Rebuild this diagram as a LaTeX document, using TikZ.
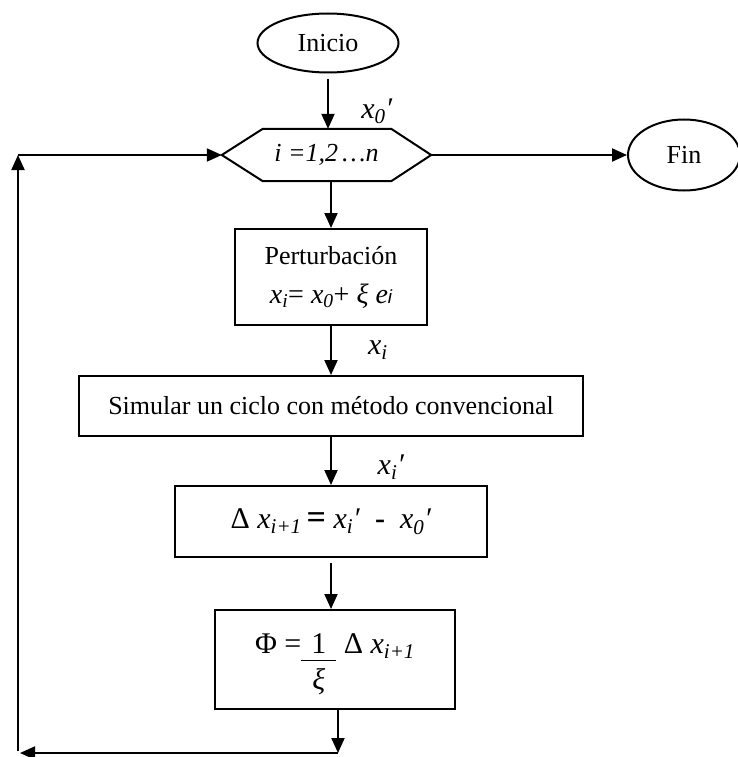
\documentclass[tikz,border=0pt]{standalone}
\usepackage{fontspec}
\setmainfont{Liberation Serif}
\newfontfamily\sansf{Liberation Sans}
\usetikzlibrary{shapes.geometric,arrows.meta,calc}
\newcommand{\vx}[1]{\textit{x}\textsubscript{\textit{#1}}}
\newcommand{\pr}{\textit{′}}
\newcommand{\mth}{\fontsize{30}{36}\selectfont}
\begin{document}
\begin{tikzpicture}[x=1pt,y=-1pt,
  every node/.style={font=\fontsize{26}{39}\selectfont, inner sep=0pt},
  line/.style={line width=2pt},
  arr/.style={line width=2pt,-{Triangle[length=15pt,width=13pt]}},
  term/.style={ellipse, draw, line width=2pt},
  proc/.style={rectangle, draw, line width=2pt, align=center},
  lab/.style={font=\mth}]
\useasboundingbox (0,0) rectangle (738,757);

\node[term, minimum width=141pt, minimum height=59pt] (inicio) at (328,43) {Inicio};
\node[minimum width=209pt, minimum height=52pt] (hex) at (326.5,155) {\textit{i =1,2\,…n}};
\draw[line] (hex.west) -- ($(hex.north west)+(41,0)$) -- ($(hex.north east)+(-40,0)$) -- (hex.east)
  -- ($(hex.south east)+(-40,0)$) -- ($(hex.south west)+(41,0)$) -- cycle;
\node[term, minimum width=112pt, minimum height=71pt] (fin) at (684,155) {Fin};
\node[proc, minimum width=192pt, minimum height=96pt] (pert) at (331,277)
  {Perturbación\\ {\fontsize{28}{30}\selectfont\vx{i}= \vx{0}+ \textit{ξ} \textit{e}{\sansf\itshape\fontsize{19}{19}\selectfont i}}};
\node[proc, minimum width=504pt, minimum height=60pt] (sim) at (331,406)
  {Simular un ciclo con método convencional};
\node[proc, minimum width=312pt, minimum height=71pt] (delta) at (331,521.5)
  {\mth Δ \vx{i+1}\,{\fontsize{34}{36}\selectfont\textbf{=}}\ \vx{i}\pr\ \ \textbf{-}\ \ \vx{0}\pr};
\node[proc, minimum width=240pt, minimum height=99pt] (phi) at (335,659.5) {};
\node[anchor=base, font=\mth] (phif) at (335,653)
  {Φ =\begin{tabular}[t]{@{\hspace{10pt}}c@{\hspace{10pt}}}1\\[-4pt]\hline\rule{0pt}{29pt}\textit{ξ}\end{tabular} Δ \vx{i+1}};

\node[lab] (l0) at (377,111) {\vx{0}\pr};
\node[lab] (l1) at (378,350) {\vx{i}};
\node[lab] (l2) at (391,467) {\vx{i}\pr};

\coordinate (c1) at (338,753);
\coordinate (c2) at (20,753);
\coordinate (c3) at (18,155);
\coordinate (c4) at (18,751);

\draw[arr, shorten <=6pt] (inicio.south) -- (inicio.south |- hex.north);
\draw[arr] (hex.east) -- (fin.west);
\draw[arr] (hex.south -| pert.north) -- (pert.north);
\draw[arr] (pert.south) -- (pert.south |- sim.north);
\draw[arr] (sim.south) -- (sim.south |- delta.north);
\draw[arr, shorten <=5pt] (delta.south) -- (delta.south |- phi.north);
\draw[arr] (phi.south -| c1) -- (c1);
\draw[arr] (c1) -- (c2);
\draw[arr] (c4) -- (c3);
\draw[arr] (c3) -- (hex.west);
\end{tikzpicture}
\end{document}
